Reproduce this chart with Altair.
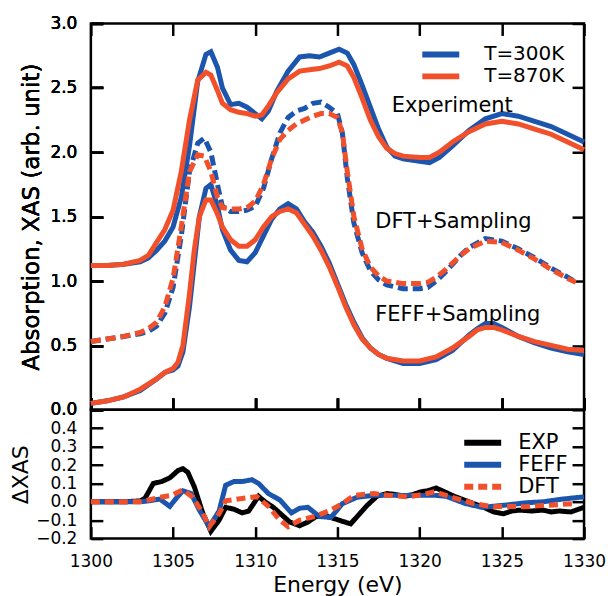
import altair as alt
import pandas as pd

BLUE = "#1b55ad"
ORANGE = "#f2502a"
FONT = "DejaVu Sans"

# ---------------- data ----------------
exp_E = [1300, 1301, 1302, 1303, 1303.5, 1304, 1304.5, 1305, 1305.5, 1306, 1306.5, 1307,
         1307.3, 1307.7, 1308, 1308.5, 1309, 1309.5, 1310, 1310.4, 1310.8, 1311.3, 1312,
         1312.7, 1313.3, 1313.9, 1314.5, 1315.1, 1315.6, 1316, 1316.5, 1317, 1317.5, 1318,
         1318.5, 1319, 1320, 1320.6, 1321.2, 1322, 1323, 1324, 1325, 1326, 1327, 1328, 1329, 1330]
exp_300 = [1.12, 1.12, 1.13, 1.15, 1.18, 1.24, 1.31, 1.42, 1.65, 2.05, 2.55, 2.76,
           2.78, 2.66, 2.50, 2.37, 2.38, 2.35, 2.30, 2.26, 2.32, 2.47, 2.63,
           2.74, 2.75, 2.74, 2.77, 2.80, 2.77, 2.68, 2.52, 2.35, 2.18, 2.04,
           1.97, 1.95, 1.93, 1.92, 1.96, 2.05, 2.17, 2.26, 2.30, 2.28, 2.24, 2.20, 2.14, 2.08]
exp_870 = [1.12, 1.12, 1.13, 1.16, 1.20, 1.30, 1.40, 1.55, 1.85, 2.25, 2.56, 2.62,
           2.60, 2.48, 2.38, 2.33, 2.31, 2.30, 2.28, 2.29, 2.36, 2.46, 2.57,
           2.63, 2.64, 2.65, 2.67, 2.70, 2.67, 2.58, 2.42, 2.25, 2.12, 2.03,
           1.99, 1.97, 1.96, 1.96, 2.00, 2.08, 2.16, 2.22, 2.24, 2.22, 2.18, 2.14, 2.08, 2.02]

dft_E = [1300, 1301, 1302, 1303, 1303.5, 1304, 1304.5, 1305, 1305.5, 1306, 1306.5, 1306.9,
         1307.3, 1307.7, 1308, 1308.5, 1309, 1309.5, 1310, 1310.5, 1311, 1311.5, 1312, 1312.5,
         1313, 1313.5, 1314, 1314.5, 1315, 1315.3, 1315.6, 1316, 1316.5, 1317, 1317.5, 1318,
         1319, 1320, 1320.5, 1321, 1321.5, 1322, 1322.5, 1323, 1324, 1325, 1326, 1327, 1328,
         1329, 1329.5]
dft_300 = [0.53, 0.55, 0.57, 0.59, 0.61, 0.65, 0.75, 0.95, 1.35, 1.85, 2.07, 2.11,
           2.00, 1.75, 1.58, 1.54, 1.54, 1.55, 1.58, 1.72, 1.95, 2.15, 2.27, 2.32,
           2.34, 2.38, 2.39, 2.35, 2.30, 2.15, 1.80, 1.45, 1.22, 1.08, 1.01, 0.97,
           0.94, 0.94, 0.95, 1.00, 1.06, 1.13, 1.20, 1.26, 1.33, 1.31, 1.25, 1.18, 1.10,
           1.03, 0.99]
dft_870 = [0.53, 0.55, 0.57, 0.60, 0.63, 0.68, 0.80, 1.02, 1.42, 1.85, 1.98, 1.97,
           1.85, 1.65, 1.57, 1.56, 1.56, 1.57, 1.62, 1.75, 1.95, 2.10, 2.17, 2.22,
           2.25, 2.28, 2.30, 2.30, 2.27, 2.15, 1.85, 1.50, 1.25, 1.11, 1.04, 1.00,
           0.98, 0.98, 0.99, 1.03, 1.08, 1.14, 1.20, 1.25, 1.31, 1.30, 1.24, 1.17, 1.09,
           1.02, 0.99]

feff_E = [1300, 1301, 1302, 1303, 1304, 1304.5, 1305, 1305.3, 1305.6, 1306, 1306.3, 1306.6,
          1307, 1307.3, 1307.7, 1308, 1308.5, 1309, 1309.5, 1310, 1310.5, 1311, 1311.5, 1312,
          1312.5, 1313, 1313.5, 1314, 1314.5, 1315, 1315.5, 1316, 1316.5, 1317, 1317.5, 1318,
          1319, 1320, 1321, 1322, 1323, 1323.5, 1324, 1324.5, 1325, 1326, 1327, 1328, 1329, 1330]
feff_300 = [0.05, 0.07, 0.10, 0.15, 0.24, 0.29, 0.31, 0.34, 0.45, 0.80, 1.15, 1.50,
            1.72, 1.75, 1.58, 1.40, 1.24, 1.16, 1.15, 1.22, 1.35, 1.48, 1.56, 1.60,
            1.56, 1.46, 1.38, 1.27, 1.14, 0.98, 0.82, 0.68, 0.56, 0.48, 0.43, 0.40,
            0.36, 0.36, 0.39, 0.46, 0.58, 0.63, 0.67, 0.67, 0.64, 0.57, 0.52, 0.48, 0.45, 0.43]
feff_870 = [0.05, 0.07, 0.10, 0.16, 0.24, 0.29, 0.32, 0.37, 0.50, 0.90, 1.25, 1.50,
            1.63, 1.63, 1.52, 1.42, 1.32, 1.27, 1.27, 1.32, 1.42, 1.50, 1.54, 1.56,
            1.53, 1.44, 1.35, 1.24, 1.11, 0.96, 0.80, 0.66, 0.55, 0.48, 0.43, 0.40,
            0.38, 0.38, 0.41, 0.48, 0.57, 0.62, 0.64, 0.64, 0.62, 0.57, 0.53, 0.50, 0.47, 0.46]

dexp_E = [1300, 1301, 1302, 1303, 1303.3, 1303.8, 1304.3, 1304.8, 1305.3, 1305.6, 1305.9,
          1306.3, 1306.8, 1307.3, 1307.8, 1308.2, 1308.7, 1309.2, 1309.6, 1310.2, 1310.6,
          1311.1, 1311.6, 1312.1, 1312.7, 1313.2, 1313.7, 1314.4, 1315.1, 1315.8, 1316.3,
          1316.8, 1317.4, 1318, 1318.5, 1319.1, 1319.6, 1320.1, 1320.5, 1321, 1321.5, 1322.1,
          1322.7, 1323.3, 1323.9, 1324.5, 1325.1, 1325.6, 1326.1, 1326.8, 1327.5, 1328,
          1328.5, 1329.2, 1330]
dexp = [0.0, 0.0, 0.0, 0.005, 0.02, 0.10, 0.11, 0.13, 0.17, 0.18, 0.16,
        0.08, -0.06, -0.16, -0.10, -0.03, -0.04, -0.06, -0.05, 0.03, 0.0,
        -0.03, -0.07, -0.11, -0.13, -0.11, -0.08, -0.08, -0.10, -0.12, -0.07,
        -0.02, 0.03, 0.045, 0.04, 0.03, 0.04, 0.055, 0.06, 0.075, 0.055, 0.03,
        0.01, -0.01, -0.03, -0.055, -0.065, -0.05, -0.045, -0.05, -0.045, -0.055,
        -0.05, -0.055, -0.03]

dfeff_E = [1300, 1302, 1303, 1303.5, 1304.2, 1304.8, 1305.2, 1305.6, 1306.1, 1306.6, 1307.2,
           1307.8, 1308.2, 1308.7, 1309.2, 1309.8, 1310.2, 1310.8, 1311.5, 1312.2, 1312.7,
           1313.2, 1313.9, 1314.6, 1315.3, 1316.2, 1317.2, 1318.1, 1319, 1320, 1321, 1321.6,
           1322.2, 1322.8, 1323.8, 1325.2, 1326.5, 1327.5, 1328.7, 1330]
dfeff = [0.0, 0.0, 0.0, 0.005, 0.015, -0.025, 0.02, 0.06, 0.045, -0.045, -0.135,
         -0.05, 0.09, 0.11, 0.11, 0.12, 0.10, 0.045, 0.01, -0.06, -0.035,
         -0.03, -0.08, -0.085, -0.01, 0.025, 0.035, 0.035, 0.035, 0.035, 0.035, 0.03,
         0.01, -0.01, -0.03, -0.018, -0.005, 0.0, 0.015, 0.027]

ddft_E = [1300, 1302, 1303, 1303.5, 1304.2, 1304.9, 1305.6, 1306.2, 1306.8, 1307.2, 1307.8,
          1308.2, 1309.2, 1310.1, 1310.8, 1311.5, 1312, 1312.7, 1313.6, 1314.6, 1315.3,
          1316, 1317.2, 1318.1, 1319.3, 1320.2, 1320.9, 1321.9, 1323.3, 1324.5, 1325.5,
          1326.4, 1327.5, 1328.5, 1329.4]
ddft = [0.0, 0.0, 0.0, 0.01, 0.025, 0.035, 0.065, 0.025, -0.06, -0.135, -0.065,
        0.005, 0.018, 0.028, -0.025, -0.10, -0.135, -0.10, -0.08, -0.045, -0.01,
        0.035, 0.045, 0.036, 0.027, 0.04, 0.055, 0.027, -0.01, -0.027, -0.025,
        -0.027, -0.02, -0.015, -0.01]

x_ticks = [1300, 1305, 1310, 1315, 1320, 1325, 1330]
top_y_ticks = [0.0, 0.5, 1.0, 1.5, 2.0, 2.5, 3.0]
bot_y_ticks = [-0.2, -0.1, 0.0, 0.1, 0.2, 0.3, 0.4]
temps = ["T=300K", "T=870K"]
kinds = ["EXP", "FEFF", "DFT"]
note_text = ["Experiment", "DFT+Sampling", "FEFF+Sampling"]
note_E = [1318.3, 1317.3, 1317.3]
note_y = [2.36, 1.46, 0.74]

# ---------------- tables ----------------
def rows(E, V, **extra):
    return [dict(E=e, val=v, idx=i, **extra) for i, (e, v) in enumerate(zip(E, V))]

solid = pd.DataFrame(
    rows(exp_E, exp_300, temp=temps[0], curve="exp")
    + rows(feff_E, feff_300, temp=temps[0], curve="feff")
    + rows(exp_E, exp_870, temp=temps[1], curve="exp")
    + rows(feff_E, feff_870, temp=temps[1], curve="feff")
)
dft300 = pd.DataFrame(rows(dft_E, dft_300))
dft870 = pd.DataFrame(rows(dft_E, dft_870))
notes = pd.DataFrame({"E": note_E, "val": note_y, "label": note_text})
diff = pd.DataFrame(
    rows(dexp_E, dexp, kind="EXP")
    + rows(dfeff_E, dfeff, kind="FEFF")
    + rows(ddft_E, ddft, kind="DFT")
)

TICK = 12
xscale = alt.Scale(domain=[1300, 1330], nice=False, zero=False)
ytop_scale = alt.Scale(domain=[0, 3], nice=False, zero=False)
ybot_scale = alt.Scale(domain=[-0.2, 0.5], nice=False, zero=False)

common = dict(domain=False, grid=False, tickSize=TICK, offset=-TICK, tickWidth=2.5,
              tickColor="black", labelOverlap=False, minExtent=0)

ax_x_top_b = alt.Axis(orient="bottom", values=x_ticks, labels=False, title=None, **common)
ax_x_top_t = alt.Axis(orient="top", values=x_ticks, labels=False, title=None, **common)
ax_y_top_l = alt.Axis(orient="left", values=top_y_ticks, format=".1f",
                      title="Absorption, XAS (arb. unit)", titleFontSize=23,
                      labelPadding=14, titlePadding=6, **common)
ax_y_top_r = alt.Axis(orient="right", values=top_y_ticks, labels=False, title=None, **common)

ax_x_bot_b = alt.Axis(orient="bottom", values=x_ticks, format="d", title="Energy (eV)",
                      labelPadding=15, titlePadding=5, labelFlush=False, **common)
ax_y_bot_l = alt.Axis(orient="left", values=bot_y_ticks, format=".1f", title="ΔXAS",
                      labelPadding=14, titlePadding=3, **common)
ax_y_bot_r = alt.Axis(orient="right", values=bot_y_ticks, labels=False, title=None, **common)

W = 494


def legend(lx, ly, label_offset, row_h, font_size):
    return alt.Legend(title=None, orient="none", legendX=lx, legendY=ly,
                      symbolType="stroke", symbolSize=1369, symbolStrokeWidth=6,
                      labelFontSize=font_size, labelOffset=label_offset, rowPadding=0,
                      clipHeight=row_h, padding=0, labelLimit=300)


# ---------------- top panel ----------------
top_solid = alt.Chart(solid).mark_line(strokeWidth=5).encode(
    x=alt.X("E:Q", scale=xscale, axis=ax_x_top_b),
    y=alt.Y("val:Q", scale=ytop_scale, axis=ax_y_top_l),
    color=alt.Color("temp:N", scale=alt.Scale(domain=temps, range=[BLUE, ORANGE]),
                    legend=legend(329, 20, 22, 22, 20)),
    detail="curve:N",
    order="idx:Q",
)
top_dft_b = alt.Chart(dft300).mark_line(strokeWidth=5, color=BLUE, strokeDash=[10, 5]).encode(
    x=alt.X("E:Q", scale=xscale, axis=ax_x_top_b),
    y=alt.Y("val:Q", scale=ytop_scale, axis=ax_y_top_l),
    order="idx:Q",
)
top_dft_o = alt.Chart(dft870).mark_line(strokeWidth=5, color=ORANGE, strokeDash=[10, 5]).encode(
    x=alt.X("E:Q", scale=xscale, axis=ax_x_top_b),
    y=alt.Y("val:Q", scale=ytop_scale, axis=ax_y_top_l),
    order="idx:Q",
)
top_notes = alt.Chart(notes).mark_text(align="left", baseline="middle", fontSize=21,
                                       font=FONT, color="black").encode(
    x=alt.X("E:Q", scale=xscale, axis=ax_x_top_b),
    y=alt.Y("val:Q", scale=ytop_scale, axis=ax_y_top_l),
    text="label:N",
)
top_frame = alt.Chart(notes).mark_point(opacity=0).encode(
    x=alt.X("E:Q", scale=xscale, axis=ax_x_top_t),
    y=alt.Y("val:Q", scale=ytop_scale, axis=ax_y_top_r),
)
top = alt.layer(top_solid, top_dft_b, top_dft_o, top_notes, top_frame).properties(
    width=W, height=387)

# ---------------- bottom panel ----------------
bot_lines = alt.Chart(diff).mark_line(strokeWidth=5).encode(
    x=alt.X("E:Q", scale=xscale, axis=ax_x_bot_b),
    y=alt.Y("val:Q", scale=ybot_scale, axis=ax_y_bot_l),
    color=alt.Color("kind:N", scale=alt.Scale(domain=kinds, range=["black", BLUE, ORANGE]),
                    legend=legend(371, 22, 14, 22, 21)),
    strokeDash=alt.StrokeDash("kind:N", scale=alt.Scale(domain=kinds,
                                                        range=[[1, 0], [1, 0], [9, 5]]),
                              legend=legend(371, 22, 14, 22, 21)),
    order="idx:Q",
)
bot_frame = alt.Chart(diff).mark_point(opacity=0, size=1).encode(
    x=alt.X("E:Q", scale=xscale, axis=ax_x_bot_b),
    y=alt.Y("val:Q", scale=ybot_scale, axis=ax_y_bot_r),
)
bottom = alt.layer(bot_lines, bot_frame).properties(width=W, height=129)

chart = alt.vconcat(top, bottom, spacing=0).resolve_scale(
    color="independent", strokeDash="independent"
).resolve_legend(color="independent", strokeDash="independent").properties(
    bounds="flush",
    padding={"left": 0, "top": 4, "right": 0, "bottom": 0}
).configure(font=FONT).configure_view(
    stroke="black", strokeWidth=2.5
).configure_axis(
    labelFont=FONT, titleFont=FONT, labelFontSize=17, titleFontSize=22,
    titleFontWeight="normal", labelColor="black", titleColor="black"
).configure_legend(labelFont=FONT, labelColor="black")

chart.save("out.html", embed_options={"renderer": "svg", "actions": False})
